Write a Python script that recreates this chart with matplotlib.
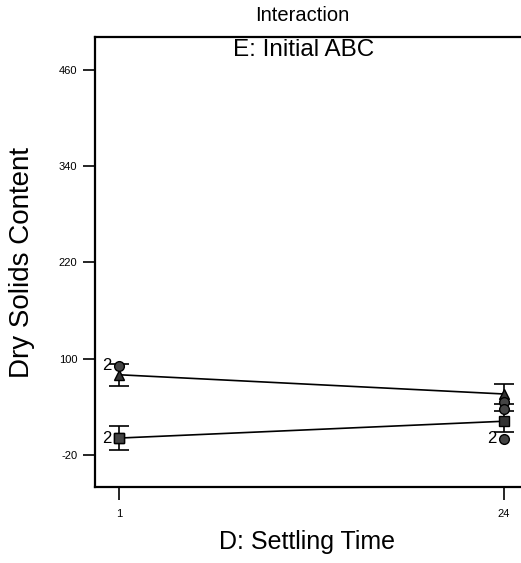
import matplotlib
matplotlib.use("Agg")
import matplotlib.pyplot as plt

# Data
settling_time = [1, 24]
tick_labels = ["1", "24"]
y_ticks = [-20, 100, 220, 340, 460]

high_abc_mean = [80, 56]
high_abc_err = [14, 13]
low_abc_mean = [1, 22]
low_abc_err = [15, 13]

# design points (x, y, replicate label)
pt_x = [1, 24, 24, 24]
pt_y = [91, 0, 46, 37]
pt_label = ["2", "2", "", ""]
sq_pt_x = [1]
sq_pt_y = [1]
sq_pt_label = ["2"]

plt.rcParams["font.family"] = ["Liberation Sans", "DejaVu Sans"]
plt.rcParams["axes.unicode_minus"] = False

fig = plt.figure(figsize=(5.21, 5.63), dpi=100)
ax = fig.add_axes([0.182, 0.135, 0.816, 0.799])

for mean, err, mk in [(high_abc_mean, high_abc_err, "^"), (low_abc_mean, low_abc_err, "s")]:
    ax.errorbar(settling_time, mean, yerr=err, color="black", lw=1.2,
                elinewidth=1.2, capsize=7, capthick=1.2,
                marker=mk, markersize=7, markerfacecolor="#333333",
                markeredgecolor="black", zorder=3)

ax.plot(pt_x, pt_y, "o", ms=7, mfc="#444444", mec="black", zorder=4)
ax.plot(sq_pt_x, sq_pt_y, "s", ms=7, mfc="#444444", mec="black", zorder=4)
for x, y, lab in zip(pt_x + sq_pt_x, pt_y + sq_pt_y, pt_label + sq_pt_label):
    if lab:
        ax.annotate(lab, (x, y), xytext=(-5, 0), textcoords="offset points",
                    ha="right", va="center", fontsize=12)

ax.set_xlim(-0.43, 24.96)
ax.set_ylim(-60, 501)
ax.set_xticks(settling_time)
ax.set_xticklabels(tick_labels)
ax.set_yticks(y_ticks)
ax.tick_params(axis="both", labelsize=8, length=9, width=1.2, direction="out")
ax.tick_params(axis="x", pad=7)
ax.spines["right"].set_visible(False)
for s in ["left", "bottom", "top"]:
    ax.spines[s].set_linewidth(1.6)

ax.set_xlabel("D: Settling Time", fontsize=18, labelpad=8)
ax.set_ylabel("Dry Solids Content", fontsize=20, labelpad=17)
fig.text(0.58, 0.972, "Interaction", ha="center", va="center", fontsize=14.5)
ax.text(0.49, 0.996, "E: Initial ABC", transform=ax.transAxes,
        ha="center", va="top", fontsize=17.5)

fig.savefig("out.png", dpi=100)
